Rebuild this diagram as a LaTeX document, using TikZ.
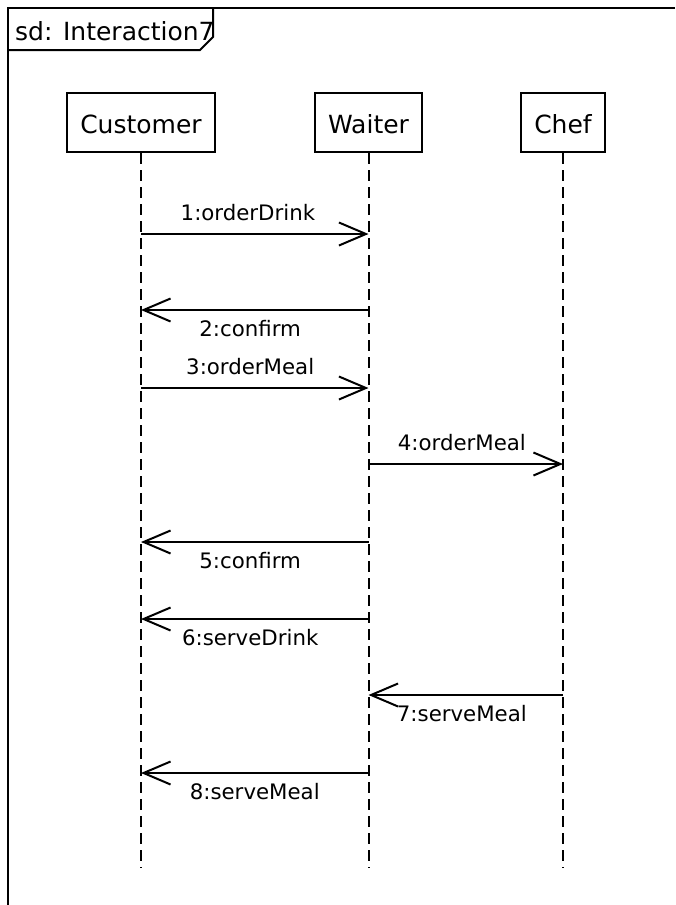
\documentclass[tikz,border=0pt]{standalone}
\usepackage{fontspec}
\setmainfont{DejaVu Sans}
\usetikzlibrary{positioning}
\usetikzlibrary{arrows.meta}

\begin{document}
\begin{tikzpicture}[x=1pt,y=-1pt,
  lifebox/.style={draw, line width=2pt, minimum height=59pt, inner xsep=13pt, inner ysep=0pt,
    text height=21pt, text depth=0pt, font=\fontsize{25}{30}\selectfont},
  lifeline/.style={line width=2pt, dash pattern=on 11pt off 6pt},
  msg/.style={line width=2pt, -{Straight Barb[length=27pt,width=23pt]}},
  msglabel/.style={font=\fontsize{21.3}{26}\selectfont, inner sep=0pt, anchor=base},
  lblabove/.style={msglabel, yshift=14pt},
  lblbelow/.style={msglabel, yshift=-26pt}]

\useasboundingbox (0,0) rectangle (675,905);

% frame and its tab
\draw[line width=2pt] (675,8) -- (8,8) -- (8,905);
\draw[line width=2pt] (213,8) -- (213,37) -- (200,50) -- (8,50);
\node[anchor=base west, font=\fontsize{25}{30}\selectfont, inner sep=0pt] (title) at (15,40) {sd: Interaction7};

% lifelines
\node[lifebox] (cust) at (141,122.5) {Customer};
\node[lifebox] (wait) at (368.5,122.5) {Waiter};
\node[lifebox] (chef) at (563,122.5) {Chef};

\coordinate (bottom) at (0,868);
\draw[lifeline] (cust) -- (cust |- bottom);
\draw[lifeline] (wait) -- (wait |- bottom);
\draw[lifeline] (chef) -- (chef |- bottom);

% message rows
\coordinate (m1) at (0,234);
\coordinate (m2) at (0,310);
\coordinate (m3) at (0,388);
\coordinate (m4) at (0,464);
\coordinate (m5) at (0,542);
\coordinate (m6) at (0,619);
\coordinate (m7) at (0,695);
\coordinate (m8) at (0,773);

\draw[msg] (cust |- m1) -- (wait |- m1) node[lblabove, pos=0.47] (l1) {1:orderDrink};
\draw[msg] (wait |- m2) -- (cust |- m2) node[lblbelow, pos=0.52] (l2) {2:confirm};
\draw[msg] (cust |- m3) -- (wait |- m3) node[lblabove, pos=0.48] (l3) {3:orderMeal};
\draw[msg] (wait |- m4) -- (chef |- m4) node[lblabove, pos=0.48] (l4) {4:orderMeal};
\draw[msg] (wait |- m5) -- (cust |- m5) node[lblbelow, pos=0.52] (l5) {5:confirm};
\draw[msg] (wait |- m6) -- (cust |- m6) node[lblbelow, pos=0.52] (l6) {6:serveDrink};
\draw[msg] (chef |- m7) -- (wait |- m7) node[lblbelow, pos=0.52] (l7) {7:serveMeal};
\draw[msg] (wait |- m8) -- (cust |- m8) node[lblbelow, pos=0.5] (l8) {8:serveMeal};

\end{tikzpicture}
\end{document}
